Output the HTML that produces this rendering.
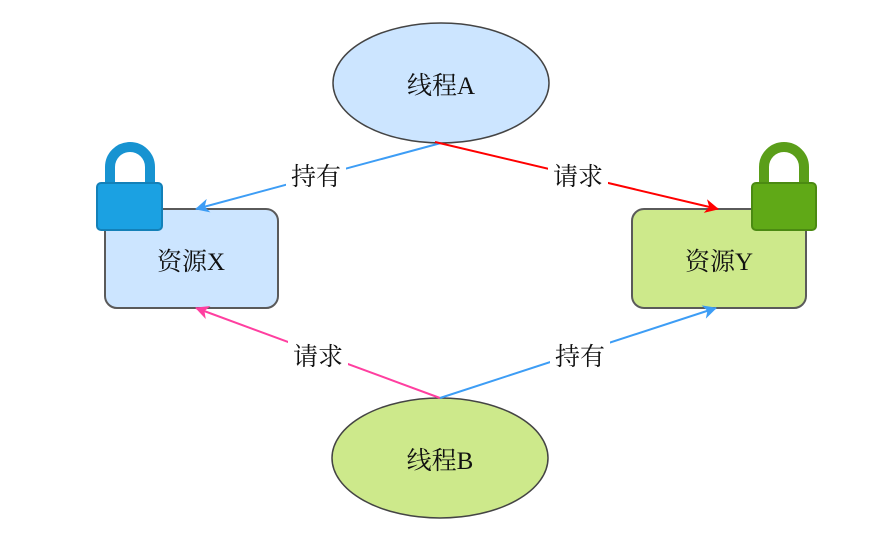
<!DOCTYPE html>
<html><head><meta charset="utf-8"><style>
body{margin:0;background:#fff;width:877px;height:545px;overflow:hidden}
text{font-family:"Liberation Serif","Noto Serif CJK SC",serif;font-size:25px;fill:#111}
</style></head><body>
<svg width="877" height="545" viewBox="0 0 877 545" xmlns="http://www.w3.org/2000/svg">
<defs>
<marker id="mr" markerWidth="14" markerHeight="14" refX="13" refY="7" orient="auto" markerUnits="userSpaceOnUse" viewBox="0 0 14 14"><path d="M0,0 L14,7 L0,14 L4,7z" fill="#f00"/></marker>
<marker id="mp" markerWidth="14" markerHeight="14" refX="13" refY="7" orient="auto" markerUnits="userSpaceOnUse" viewBox="0 0 14 14"><path d="M0,0 L14,7 L0,14 L4,7z" fill="#ff3fa0"/></marker>
<marker id="mb2" markerWidth="14" markerHeight="14" refX="13" refY="7" orient="auto" markerUnits="userSpaceOnUse" viewBox="0 0 14 14"><path d="M0,0 L14,7 L0,14 L4,7z" fill="#3d9df5"/></marker>
</defs>
<rect x="105" y="209" width="173" height="99" rx="12" fill="#cce5ff" stroke="#5a5a5a" stroke-width="2"/>
<rect x="632" y="209" width="174" height="99" rx="12" fill="#cde98b" stroke="#5a5a5a" stroke-width="2"/>
<text x="191" y="270" text-anchor="middle">资源X</text>
<text x="719" y="270" text-anchor="middle">资源Y</text>
<path d="M110,185 V167 A20,20 0 0 1 150,167 V185" fill="none" stroke="#1793d1" stroke-width="10"/>
<rect x="97" y="183" width="65" height="47" rx="4" fill="#1ba1e2" stroke="#1380b8" stroke-width="2"/>
<path d="M764,185 V167 A20,20 0 0 1 804,167 V185" fill="none" stroke="#5a9e19" stroke-width="10"/>
<rect x="752" y="183" width="64" height="47" rx="4" fill="#60a917" stroke="#4b8a12" stroke-width="2"/>
<ellipse cx="441" cy="83" rx="108" ry="60" fill="#cce5ff" stroke="#444" stroke-width="1.5"/>
<ellipse cx="440" cy="458" rx="108" ry="60" fill="#cde98b" stroke="#444" stroke-width="1.5"/>
<text x="441" y="94" text-anchor="middle">线程A</text>
<text x="440" y="469" text-anchor="middle">线程B</text>
<line x1="441" y1="143" x2="196" y2="209" stroke="#3d9df5" stroke-width="2" marker-end="url(#mb2)"/>
<line x1="435" y1="142" x2="718" y2="209" stroke="#f00" stroke-width="2" marker-end="url(#mr)"/>
<line x1="440" y1="398" x2="196" y2="308" stroke="#ff3fa0" stroke-width="2" marker-end="url(#mp)"/>
<line x1="440" y1="398" x2="716" y2="308" stroke="#3d9df5" stroke-width="2" marker-end="url(#mb2)"/>
<rect x="286" y="160" width="60" height="30" fill="#fff"/>
<text x="316" y="185" text-anchor="middle">持有</text>
<rect x="548" y="160" width="60" height="30" fill="#fff"/>
<text x="578" y="185" text-anchor="middle">请求</text>
<rect x="288" y="340" width="60" height="30" fill="#fff"/>
<text x="318" y="365" text-anchor="middle">请求</text>
<rect x="550" y="340" width="60" height="30" fill="#fff"/>
<text x="580" y="365" text-anchor="middle">持有</text>
</svg>
</body></html>
